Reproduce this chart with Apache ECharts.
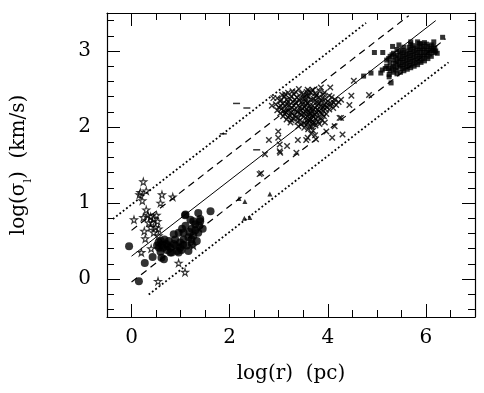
<!DOCTYPE html>
<html><head><meta charset="utf-8">
<script src="https://cdn.jsdelivr.net/npm/echarts@6/dist/echarts.min.js"></script>
<style>html,body{margin:0;padding:0;background:#fff}#c{width:484px;height:393px}</style>
</head><body><div id="c"></div>
<script>
// ---- data ----
const xMajorTicks = [0, 2, 4, 6];
const xMinorTicks = [-0.5, 0.5, 1, 1.5, 2.5, 3, 3.5, 4.5, 5, 5.5, 6.5];
const yMajorTicks = [0, 1, 2, 3];
const yMinorTicks = [-0.4, -0.2, 0.2, 0.4, 0.6, 0.8, 1.2, 1.4, 1.6, 1.8, 2.2, 2.4, 2.6, 2.8, 3.2, 3.4];

const fitSlope = 0.5;
const lineIntercepts = [0.30, 0.64, -0.04, 0.98, -0.38];
const lineXStart = [0, 0, 0, -0.38, 0.35];
const lineXEnd = [6.2, 5.65, 6.4, 4.78, 6.46];

const circlePts = [[-0.05,0.43],[0.15,-0.03],[0.27,0.21],[0.43,0.29],[0.56,0.41],[0.59,0.36],[0.61,0.28],[1.09,0.84],[1.36,0.87],[1.40,0.79],[1.61,0.89],[1.26,0.76],[1.03,0.66],[0.96,0.61],[0.89,0.52],[1.06,0.52],[1.16,0.55],[1.23,0.66],[1.30,0.72],[1.45,0.66],[1.13,0.44],[0.93,0.37],[0.79,0.41],[0.71,0.46],[0.67,0.52],[0.76,0.50],[0.86,0.46],[0.99,0.41],[1.23,0.46],[1.33,0.50],[1.06,0.61],[0.96,0.35],[0.72,0.38],[0.52,0.44],[0.55,0.48],[0.64,0.41],[0.82,0.35],[1.16,0.37],[1.26,0.57],[1.36,0.61],[0.86,0.59],[0.99,0.48],[1.10,0.70],[1.20,0.78],[0.60,0.50],[1.38,0.70],[0.66,0.26],[0.79,0.35],[1.10,0.85],[1.40,0.76],[0.90,0.44],[1.02,0.38],[1.18,0.62],[0.74,0.43],[1.30,0.64],[1.05,0.45],[0.62,0.45],[1.22,0.52]];

const starPts = [[0.24,1.28],[0.18,1.14],[0.30,1.16],[0.22,1.03],[0.16,1.11],[0.05,0.78],[0.24,0.81],[0.30,0.91],[0.33,0.84],[0.39,0.82],[0.42,0.74],[0.35,0.74],[0.45,0.79],[0.51,0.84],[0.53,0.76],[0.49,0.68],[0.39,0.68],[0.55,0.66],[0.45,0.61],[0.28,0.53],[0.20,0.35],[0.40,0.40],[0.62,1.11],[0.59,1.00],[0.84,1.08],[0.96,0.21],[1.09,0.09],[0.54,-0.03],[1.26,0.44],[0.26,0.63],[0.55,0.57]];

const trianglePts = [[2.19,1.06],[2.31,1.02],[2.82,1.12],[2.30,0.80],[2.41,0.81]];

const dashPts = [[2.14,2.31],[2.35,2.25],[1.87,1.91],[2.55,1.70]];

const crossPts = [
 [3.28,2.47],[3.41,2.50],[3.57,2.46],[3.69,2.49],[3.83,2.47],[3.93,2.45],
 [3.07,2.42],[3.19,2.45],[3.31,2.43],[3.46,2.44],[3.58,2.41],[3.66,2.45],[3.77,2.42],[3.91,2.43],[4.03,2.41],
 [2.97,2.38],[3.12,2.40],[3.23,2.37],[3.37,2.39],[3.50,2.38],[3.61,2.40],[3.71,2.37],[3.82,2.39],[3.95,2.37],[4.08,2.39],
 [3.03,2.34],[3.16,2.36],[3.29,2.33],[3.42,2.35],[3.55,2.34],[3.65,2.36],[3.78,2.33],[3.87,2.35],[4.00,2.34],[4.15,2.36],[4.22,2.33],
 [2.94,2.30],[3.09,2.31],[3.21,2.29],[3.35,2.32],[3.48,2.30],[3.60,2.31],[3.69,2.28],[3.81,2.31],[3.93,2.29],[4.07,2.31],[4.17,2.29],
 [3.00,2.26],[3.13,2.27],[3.27,2.25],[3.40,2.28],[3.52,2.26],[3.63,2.27],[3.74,2.25],[3.85,2.27],[3.98,2.26],[4.11,2.25],
 [2.97,2.22],[3.06,2.24],[3.18,2.21],[3.32,2.23],[3.45,2.22],[3.57,2.24],[3.68,2.21],[3.79,2.23],[3.91,2.21],[4.03,2.23],
 [3.03,2.18],[3.15,2.19],[3.28,2.17],[3.39,2.20],[3.51,2.18],[3.62,2.19],[3.73,2.16],[3.84,2.19],[3.97,2.17],
 [3.09,2.14],[3.22,2.15],[3.35,2.13],[3.47,2.16],[3.58,2.14],[3.68,2.15],[3.80,2.13],[3.92,2.14],
 [3.16,2.10],[3.29,2.11],[3.43,2.09],[3.55,2.12],[3.65,2.10],[3.76,2.11],[3.88,2.09],
 [3.24,2.06],[3.38,2.07],[3.52,2.05],[3.63,2.08],[3.72,2.06],[3.83,2.04],
 [3.40,2.01],[3.56,2.03],[3.67,2.00],[3.75,2.02],
 [3.60,1.97],[3.70,1.95],[3.66,1.91],[3.74,1.89],
 [3.35,2.46],[3.50,2.43],[3.74,2.44],[3.62,2.47],[3.13,2.43],[3.25,2.40],[3.44,2.38],[3.55,2.37],[3.76,2.40],[3.89,2.38],
 [3.05,2.36],[3.19,2.33],[3.33,2.36],[3.47,2.33],[3.58,2.32],[3.72,2.34],[3.84,2.32],[3.96,2.32],[4.12,2.32],
 [3.04,2.28],[3.17,2.30],[3.31,2.28],[3.43,2.26],[3.55,2.29],[3.66,2.24],[3.78,2.28],[3.90,2.26],[4.05,2.28],
 [3.10,2.21],[3.23,2.24],[3.37,2.20],[3.49,2.24],[3.60,2.21],[3.71,2.23],[3.82,2.21],[3.94,2.24],
 [3.12,2.17],[3.25,2.19],[3.44,2.17],[3.55,2.20],[3.66,2.17],[3.77,2.19],[3.89,2.17],
 [3.19,2.13],[3.32,2.15],[3.50,2.13],[3.62,2.16],[3.71,2.13],[3.85,2.12],
 [3.26,2.09],[3.40,2.12],[3.60,2.09],[3.69,2.08],[3.80,2.07],
 [3.46,2.04],[3.59,2.06],[3.70,2.04],[3.52,1.99],[3.63,2.01],
 [2.89,2.38],[2.86,2.28],[2.99,1.94],[2.80,1.83],[3.02,1.77],[2.99,1.86],[3.17,1.75],[3.03,1.66],
 [3.36,1.66],[3.39,1.83],[3.59,1.86],[3.76,1.84],[3.97,1.94],[4.14,2.01],[4.09,1.86],[4.27,2.12],
 [4.44,2.29],[4.48,2.41],[4.53,2.61],[4.84,2.42],[4.05,2.52],[3.86,2.52],[3.59,2.49],[2.72,1.64],
 [2.61,1.38],[2.64,1.39],[4.27,2.36],[4.24,2.12],[3.94,2.06],[4.30,1.90],[3.56,1.83],[3.02,1.68]
];

const squarePts = [
 [5.20,2.80],[5.20,2.88],[5.27,2.74],[5.27,2.84],[5.27,2.93],[5.34,2.72],[5.34,2.80],[5.34,2.88],[5.34,2.97],
 [5.41,2.70],[5.41,2.78],[5.41,2.86],[5.41,2.94],[5.41,3.02],[5.48,2.72],[5.48,2.80],[5.48,2.88],[5.48,2.96],
 [5.55,2.74],[5.55,2.82],[5.55,2.90],[5.55,2.98],[5.55,3.05],[5.62,2.76],[5.62,2.84],[5.62,2.92],[5.62,3.00],
 [5.69,2.78],[5.69,2.86],[5.69,2.94],[5.69,3.02],[5.69,3.09],[5.76,2.80],[5.76,2.88],[5.76,2.96],[5.76,3.04],
 [5.83,2.82],[5.83,2.90],[5.83,2.98],[5.83,3.06],[5.83,3.12],[5.90,2.85],[5.90,2.93],[5.90,3.01],[5.90,3.09],
 [5.97,2.87],[5.97,2.95],[5.97,3.03],[5.97,3.11],[6.04,2.90],[6.04,2.98],[6.04,3.06],[6.11,2.93],[6.11,3.01],[6.11,3.08],
 [6.18,2.98],[6.18,3.04],
 [5.24,2.77],[5.24,2.90],[5.31,2.78],[5.31,2.95],[5.38,2.75],[5.38,2.84],[5.38,2.92],[5.45,2.82],[5.45,2.90],[5.45,2.99],
 [5.52,2.77],[5.52,2.85],[5.52,2.93],[5.52,3.01],[5.59,2.79],[5.59,2.87],[5.59,2.95],[5.66,2.81],[5.66,2.89],[5.66,2.97],[5.66,3.05],
 [5.73,2.83],[5.73,2.91],[5.73,2.99],[5.73,3.07],[5.80,2.85],[5.80,2.93],[5.80,3.01],[5.87,2.87],[5.87,2.95],[5.87,3.03],[5.87,3.10],
 [5.94,2.90],[5.94,2.98],[5.94,3.06],[6.01,2.93],[6.01,3.01],[6.01,3.09],[6.08,2.96],[6.08,3.03],[6.15,3.00],[6.15,3.06],
 [4.95,2.98],[5.12,2.98],[5.69,3.12],[6.34,3.18],[4.73,2.67],[4.88,2.71],[5.08,2.71],[5.25,2.66],[5.29,2.58],[5.17,2.77],
 [5.32,3.06],[5.45,3.08],[6.16,3.12],[6.23,2.97],[5.11,2.75],[5.25,2.69],[6.20,3.00]
];

// ---- chart ----
const FONT = 'DejaVu Serif';
const chart = echarts.init(document.getElementById('c'));
const lineStyles = [
  {type:'solid', width:1},
  {type:[7,5], width:1.2},
  {type:[7,5], width:1.2},
  {type:[1.8,2.4], width:1.8},
  {type:[1.8,2.4], width:1.8}
];
const lineSeries = lineIntercepts.map((b, i) => ({
  type:'line', silent:true, showSymbol:false, symbol:'none',
  data:[[lineXStart[i], b + fitSlope*lineXStart[i]], [lineXEnd[i], b + fitSlope*lineXEnd[i]]],
  lineStyle:Object.assign({color:'#000', cap:'butt'}, lineStyles[i]),
  z:2
}));

function xAx(pos, ticks, len, showLine, showLabel) {
  return {type:'value', position:pos, min:-0.5, max:7,
    axisLine:{show:showLine, onZero:false, lineStyle:{color:'#000', width:1.2}},
    axisTick:{show:true, inside:true, length:len, customValues:ticks, lineStyle:{color:'#000', width:1}},
    axisLabel:{show:showLabel, customValues:ticks, margin:11, color:'#000', fontFamily:FONT, fontSize:20},
    splitLine:{show:false}};
}
function yAx(pos, ticks, len, showLine, showLabel) {
  return {type:'value', position:pos, min:-0.5, max:3.5,
    axisLine:{show:showLine, onZero:false, lineStyle:{color:'#000', width:1.2}},
    axisTick:{show:true, inside:true, length:len, customValues:ticks, lineStyle:{color:'#000', width:1}},
    axisLabel:{show:showLabel, customValues:ticks, margin:16, color:'#000', fontFamily:FONT, fontSize:20},
    splitLine:{show:false}};
}
const xAxes = [xAx('bottom', xMajorTicks, 13, true, true), xAx('bottom', xMinorTicks, 7, false, false),
               xAx('top', xMajorTicks, 13, true, false), xAx('top', xMinorTicks, 7, false, false)];
xAxes[0].name = 'log(r)  (pc)';
xAxes[0].nameLocation = 'middle';
xAxes[0].nameGap = 47;
xAxes[0].nameTextStyle = {color:'#000', fontFamily:FONT, fontSize:20};
const yAxes = [yAx('left', yMajorTicks, 13, true, true), yAx('left', yMinorTicks, 7, false, false),
               yAx('right', yMajorTicks, 13, true, false), yAx('right', yMinorTicks, 7, false, false)];
yAxes[0].name = 'log(σ{sub|l})  (km/s)';
yAxes[0].nameLocation = 'middle';
yAxes[0].nameGap = 78;
yAxes[0].nameTextStyle = {color:'#000', fontFamily:FONT, fontSize:20,
  rich:{sub:{fontFamily:FONT, fontSize:11, color:'#000', verticalAlign:'bottom', padding:[0,0,-5,0]}}};

const crossPath = 'path://M0,0L10,10M10,0L0,10';
const starPath = 'path://M50,0L61,35L98,35L68,57L79,91L50,70L21,91L32,57L2,35L39,35Z';

chart.setOption({
  animation:false,
  backgroundColor:'#fff',
  grid:{left:107, right:9, top:13, bottom:76, containLabel:false},
  xAxis:xAxes, yAxis:yAxes,
  series:[
    ...lineSeries,
    {type:'scatter', data:crossPts, symbol:crossPath, symbolSize:5.5,
     itemStyle:{color:'transparent', borderColor:'#000', borderWidth:1.4}, z:3},
    {type:'scatter', data:squarePts, symbol:'rect', symbolSize:5, itemStyle:{color:'#000'}, z:3},
    {type:'scatter', data:circlePts, symbol:'circle', symbolSize:8, itemStyle:{color:'#000'}, z:3},
    {type:'scatter', data:starPts, symbol:starPath, symbolSize:7,
     itemStyle:{color:'transparent', borderColor:'#000', borderWidth:1.1}, z:3},
    {type:'scatter', data:trianglePts, symbol:'triangle', symbolSize:5, itemStyle:{color:'#000'}, z:3},
    {type:'scatter', data:dashPts, symbol:'rect', symbolSize:[7,1.5], itemStyle:{color:'#000'}, z:3}
  ]
});
</script></body></html>
